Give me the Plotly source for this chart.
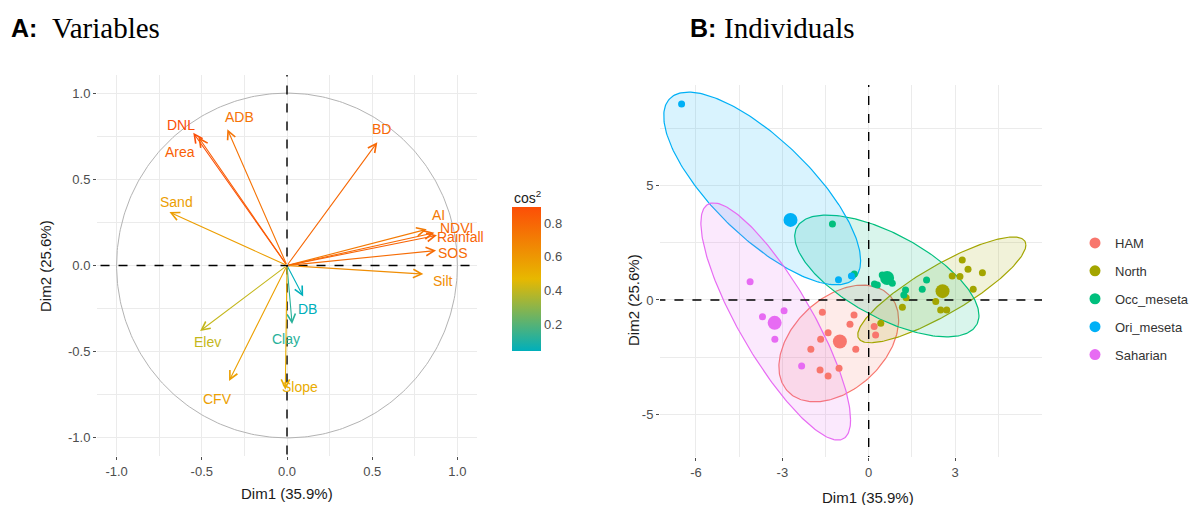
import numpy as np
import plotly.graph_objects as go
from plotly.colors import sample_colorscale

# ---------------- Panel A: variable loadings ----------------
var_names = ["DNL", "Area", "ADB", "BD", "Sand", "AI", "NDVI", "Rainfall",
             "SOS", "Silt", "DB", "Clay", "Elev", "CFV", "Slope"]
var_dim1 = [-0.55, -0.52, -0.35, 0.53, -0.69, 0.82, 0.865, 0.88,
            0.875, 0.80, 0.095, 0.03, -0.51, -0.34, -0.01]
var_dim2 = [0.77, 0.745, 0.79, 0.715, 0.31, 0.21, 0.19, 0.175,
            0.087, -0.05, -0.18, -0.34, -0.38, -0.67, -0.72]

# label nudges in pixels (dx, dy) from arrow tips
label_shift = {"DNL": (-12, 8), "Area": (-18, -15), "ADB": (12, 12), "BD": (4, 13),
               "Sand": (7, 10), "AI": (12, 14), "NDVI": (22, 5), "Rainfall": (24, -2),
               "SOS": (17, -2), "Silt": (20, -7), "DB": (4, -12), "Clay": (-6, -15),
               "Elev": (7, -11), "CFV": (-12, -18), "Slope": (15, 3)}

grad_cols = ["#00AFBB", "#E7B800", "#FC4E07"]

# ---------------- Panel B: individuals ----------------
groups = ["HAM", "North", "Occ_meseta", "Ori_meseta", "Saharian"]
group_cols = ["#F8766D", "#A3A500", "#00BF7D", "#00B0F6", "#E76BF3"]

ham_dim1 = [-1.61, -0.51, -0.65, -1.41, -1.67, -0.45, -2.01, -1.69, -1.41, -1.03, 0.19, 0.24]
ham_dim2 = [-0.54, -0.66, -1.06, -1.43, -1.72, -2.15, -2.15, -3.06, -3.32, -2.98, -1.16, -1.53]
north_dim1 = [3.25, 3.45, 3.95, 3.17, 2.90, 3.63, 2.33, 2.50, 2.71, 1.17, 0.42, 1.30]
north_dim2 = [1.75, 1.34, 1.19, 1.02, 1.05, 0.47, -0.07, -0.44, -0.44, -0.32, -1.02, 0.10]
occ_dim1 = [-1.26, 0.30, 0.82, 0.47, 1.28, 1.22, 2.01, 1.86, -0.50, 0.20]
occ_dim2 = [3.32, 0.65, 0.73, 1.09, 0.44, 0.22, 0.87, 0.47, 1.13, 0.70]
ori_dim1 = [-6.50, -1.05, -0.60]
ori_dim2 = [8.56, 0.88, 1.05]
sah_dim1 = [-4.12, -2.94, -3.69, -3.26, -2.33]
sah_dim2 = [0.80, -0.47, -0.73, -1.72, -2.88]

group_dim1 = [ham_dim1, north_dim1, occ_dim1, ori_dim1, sah_dim1]
group_dim2 = [ham_dim2, north_dim2, occ_dim2, ori_dim2, sah_dim2]

# concentration ellipses: centre, half-extents and correlation per group
ell_cx = [-1.04, 2.54, 0.63, -3.70, -3.23]
ell_cy = [-1.90, 0.44, 1.05, 4.87, -0.94]
ell_sx = [2.08, 2.92, 3.20, 3.42, 2.60]
ell_sy = [2.55, 2.31, 2.66, 4.21, 5.18]
ell_rho = [0.40, 0.85, -0.65, -0.75, -0.83]

W, H = 1194, 505
FONT = "Liberation Sans"
GRID = "#EBEBEB"
TICKC = "#4D4D4D"


def px(x):
    return x / W


def py(y):
    return 1 - y / H


def rgba(hex_col, a):
    h = hex_col.lstrip("#")
    r, g, b = int(h[0:2], 16), int(h[2:4], 16), int(h[4:6], 16)
    return f"rgba({r},{g},{b},{a})"


fig = go.Figure()

# --- Panel A traces ---
t = np.linspace(0, 2 * np.pi, 361)
fig.add_trace(go.Scatter(x=np.cos(t), y=np.sin(t), mode="lines",
                         line=dict(color="#B3B3B3", width=1),
                         hoverinfo="skip", showlegend=False, xaxis="x", yaxis="y"))
fig.add_trace(go.Scatter(x=[-1.2, 1.2], y=[0, 0], mode="lines",
                         line=dict(color="black", width=1.4, dash="dash"),
                         hoverinfo="skip", showlegend=False, xaxis="x", yaxis="y"))
fig.add_trace(go.Scatter(x=[0, 0], y=[-1.2, 1.2], mode="lines",
                         line=dict(color="black", width=1.4, dash="dash"),
                         hoverinfo="skip", showlegend=False, xaxis="x", yaxis="y"))

d1 = np.array(var_dim1)
d2 = np.array(var_dim2)
cos2 = d1 ** 2 + d2 ** 2
cmin, cmax = float(cos2.min()), float(cos2.max())
cscale = [[0.0, grad_cols[0]], [0.5, grad_cols[1]], [1.0, grad_cols[2]]]
var_cols = sample_colorscale(cscale, list((cos2 - cmin) / (cmax - cmin)))

fig.add_trace(go.Scatter(
    x=d1, y=d2, mode="markers", hoverinfo="skip", showlegend=False,
    marker=dict(size=1, opacity=0, color=cos2, colorscale=cscale, cmin=cmin, cmax=cmax,
                showscale=True,
                colorbar=dict(x=px(502), xanchor="left", y=py(279), yanchor="middle",
                              len=144, lenmode="pixels", thickness=29, outlinewidth=0,
                              ypad=0, tickvals=[0.2, 0.4, 0.6, 0.8], ticks="",
                              tickfont=dict(family=FONT, size=13, color=TICKC))),
    xaxis="x", yaxis="y"))

annotations = [
    dict(x=px(512), y=py(197), xref="paper", yref="paper", xanchor="left", yanchor="middle",
         text="cos<sup>2</sup>", showarrow=False,
         font=dict(family=FONT, size=14, color="#1A1A1A")),
]
for name, a, b, col in zip(var_names, var_dim1, var_dim2, var_cols):
    annotations.append(dict(x=a, y=b, ax=0, ay=0, xref="x", yref="y", axref="x", ayref="y",
                            text="", showarrow=True, arrowhead=5, arrowsize=1.5,
                            arrowwidth=1.1, arrowcolor=col, standoff=0))
    dx, dy = label_shift[name]
    annotations.append(dict(x=a, y=b, xref="x", yref="y", text=name, showarrow=False,
                            xshift=dx, yshift=dy,
                            font=dict(family=FONT, size=14, color=col)))

# --- Panel B traces ---
for i, g in enumerate(groups):
    tt = np.linspace(0, 2 * np.pi, 241)
    ex = ell_cx[i] + ell_sx[i] * np.cos(tt)
    ey = ell_cy[i] + ell_sy[i] * (ell_rho[i] * np.cos(tt) + np.sqrt(1 - ell_rho[i] ** 2) * np.sin(tt))
    fig.add_trace(go.Scatter(x=ex, y=ey, mode="lines", fill="toself",
                             fillcolor=rgba(group_cols[i], 0.15),
                             line=dict(color=group_cols[i], width=1.2),
                             hoverinfo="skip", showlegend=False, xaxis="x2", yaxis="y2"))

fig.add_trace(go.Scatter(x=[-8, 7], y=[0, 0], mode="lines",
                         line=dict(color="black", width=1.4, dash="dash"),
                         hoverinfo="skip", showlegend=False, xaxis="x2", yaxis="y2"))
fig.add_trace(go.Scatter(x=[0, 0], y=[-8, 10], mode="lines",
                         line=dict(color="black", width=1.4, dash="dash"),
                         hoverinfo="skip", showlegend=False, xaxis="x2", yaxis="y2"))

for i, g in enumerate(groups):
    gx, gy = group_dim1[i], group_dim2[i]
    fig.add_trace(go.Scatter(x=gx, y=gy, mode="markers", name=g,
                             marker=dict(size=7, color=group_cols[i]),
                             showlegend=False, xaxis="x2", yaxis="y2"))
    fig.add_trace(go.Scatter(x=[float(np.mean(gx))], y=[float(np.mean(gy))], mode="markers",
                             marker=dict(size=14, color=group_cols[i]),
                             showlegend=False, hoverinfo="skip", xaxis="x2", yaxis="y2"))
    # legend key
    fig.add_trace(go.Scatter(x=[None], y=[None], mode="markers", name=g, legendgroup=g,
                             marker=dict(size=11, color=group_cols[i]),
                             showlegend=True, xaxis="x2", yaxis="y2"))

# --- titles and axis titles ---
def paper_text(x, y, text, font, angle=0, xanchor="center"):
    return dict(x=px(x), y=py(y), xref="paper", yref="paper", xanchor=xanchor,
                yanchor="middle", text=text, showarrow=False, textangle=angle, font=font)


title_sans = dict(family=FONT, size=25, color="black")
title_serif = dict(family="Liberation Serif", size=29, color="black")
axis_font = dict(family=FONT, size=15, color="#1A1A1A")

annotations += [
    paper_text(9, 28, "<b>A:</b>", title_sans, xanchor="left"),
    paper_text(50, 28, "Variables", title_serif, xanchor="left"),
    paper_text(688, 28, "<b>B:</b>", title_sans, xanchor="left"),
    paper_text(722, 28, "Individuals", title_serif, xanchor="left"),
    paper_text(287, 493, "Dim1 (35.9%)", axis_font),
    paper_text(45, 266, "Dim2 (25.6%)", axis_font, angle=-90),
    paper_text(868, 497, "Dim1 (35.9%)", axis_font),
    paper_text(633, 300, "Dim2 (25.6%)", axis_font, angle=-90),
]

axis_common = dict(showgrid=True, gridcolor=GRID, gridwidth=1, zeroline=False,
                   showline=False, ticks="outside", ticklen=3, tickcolor=TICKC,
                   tickfont=dict(family=FONT, size=13, color=TICKC))

fig.update_layout(
    width=W, height=H, margin=dict(l=0, r=0, t=0, b=0),
    paper_bgcolor="white", plot_bgcolor="white",
    xaxis=dict(domain=[px(97), px(477)], range=[-1.115, 1.115], anchor="y",
               tickvals=[-1, -0.5, 0, 0.5, 1], ticktext=["-1.0", "-0.5", "0.0", "0.5", "1.0"],
               minor=dict(tickvals=[-0.75, -0.25, 0.25, 0.75], showgrid=True,
                          gridcolor=GRID, gridwidth=0.6, ticks=""),
               **axis_common),
    yaxis=dict(domain=[py(456), py(75)], range=[-1.105, 1.105], anchor="x",
               tickvals=[-1, -0.5, 0, 0.5, 1], ticktext=["-1.0", "-0.5", "0.0", "0.5", "1.0"],
               minor=dict(tickvals=[-0.75, -0.25, 0.25, 0.75], showgrid=True,
                          gridcolor=GRID, gridwidth=0.6, ticks=""),
               **axis_common),
    xaxis2=dict(domain=[px(660), px(1042)], range=[-7.25, 6.02], anchor="y2",
                tickvals=[-6, -3, 0, 3], ticktext=["-6", "-3", "0", "3"],
                minor=dict(tickvals=[-4.5, -1.5, 1.5, 4.5], showgrid=True,
                           gridcolor=GRID, gridwidth=0.6, ticks=""),
                **axis_common),
    yaxis2=dict(domain=[py(457), py(85)], range=[-6.86, 9.39], anchor="x2",
                tickvals=[-5, 0, 5], ticktext=["-5", "0", "5"],
                minor=dict(tickvals=[-2.5, 2.5, 7.5], showgrid=True,
                           gridcolor=GRID, gridwidth=0.6, ticks=""),
                **axis_common),
    legend=dict(x=px(1075), y=py(228), xanchor="left", yanchor="top",
                font=dict(family=FONT, size=13, color="#333333"),
                tracegroupgap=8, bgcolor="rgba(0,0,0,0)"),
    annotations=annotations,
    showlegend=True,
)

fig.write_html("out.html")
